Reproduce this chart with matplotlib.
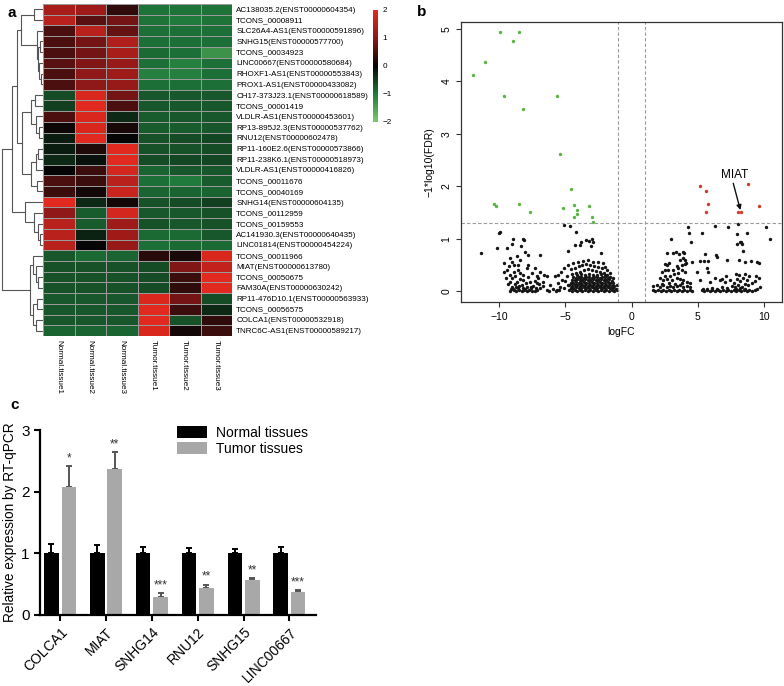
import numpy as np
import matplotlib
matplotlib.use("Agg")
import matplotlib.pyplot as plt
from matplotlib.colors import LinearSegmentedColormap
from matplotlib.patches import Patch

plt.rcParams['font.family'] = ['Liberation Sans', 'DejaVu Sans']

# ---------------- panel a: heatmap data ----------------
GENES = [
    "AC138035.2(ENST00000604354)", "TCONS_00008911", "SLC26A4-AS1(ENST00000591896)",
    "SNHG15(ENST00000577700)", "TCONS_00034923", "LINC00667(ENST00000580684)",
    "RHOXF1-AS1(ENST00000553843)", "PROX1-AS1(ENST00000433082)",
    "CH17-373J23.1(ENST00000618589)", "TCONS_00001419", "VLDLR-AS1(ENST00000453601)",
    "RP13-895J2.3(ENST00000537762)", "RNU12(ENST00000602478)",
    "RP11-160E2.6(ENST00000573866)", "RP11-238K6.1(ENST00000518973)",
    "VLDLR-AS1(ENST00000416826)", "TCONS_00011676", "TCONS_00040169",
    "SNHG14(ENST00000604135)", "TCONS_00112959", "TCONS_00159553",
    "AC141930.3(ENST00000640435)", "LINC01814(ENST00000454224)",
    "TCONS_00011966", "MIAT(ENST00000613780)", "TCONS_00050675",
    "FAM30A(ENST00000630242)", "RP11-476D10.1(ENST00000563933)", "TCONS_00056575",
    "COLCA1(ENST00000532918)", "TNRC6C-AS1(ENST00000589217)",
]
SAMPLES = ["Normal.tissue1", "Normal.tissue2", "Normal.tissue3",
           "Tumor.tissue1", "Tumor.tissue2", "Tumor.tissue3"]
ZSCORE = np.array([
    [1.3, 1.2, 0.3, -0.95, -0.95, -0.95],
    [1.5, 0.6, 0.8, -0.95, -1.0, -0.95],
    [0.5, 1.5, 0.7, -0.9, -0.9, -0.9],
    [0.5, 0.8, 1.4, -0.9, -0.9, -0.9],
    [0.5, 0.8, 1.3, -0.85, -0.9, -1.3],
    [0.6, 0.9, 1.1, -0.9, -1.05, -0.9],
    [0.5, 1.0, 1.2, -1.05, -1.05, -0.9],
    [0.5, 1.0, 1.1, -0.9, -0.9, -0.9],
    [-0.6, 1.9, 0.8, -0.7, -0.7, -0.7],
    [-0.5, 2.0, 0.5, -0.7, -0.7, -0.7],
    [0.5, 1.9, -0.3, -0.75, -0.7, -0.7],
    [0.05, 1.9, 0.15, -0.75, -0.75, -0.7],
    [-0.2, 2.0, 0.0, -0.65, -0.6, -0.55],
    [-0.2, 0.2, 2.0, -0.65, -0.65, -0.6],
    [-0.3, -0.1, 2.0, -0.6, -0.55, -0.55],
    [0.0, 0.4, 1.8, -0.8, -0.7, -0.7],
    [0.5, 0.4, 1.5, -0.9, -1.0, -0.75],
    [0.4, 0.1, 1.7, -0.8, -0.8, -0.8],
    [2.0, -0.3, 0.1, -0.65, -0.6, -0.5],
    [1.0, -0.75, 1.8, -0.7, -0.7, -0.65],
    [1.5, -0.75, 1.2, -0.65, -0.7, -0.65],
    [1.5, -0.25, 1.2, -0.85, -0.85, -0.7],
    [1.5, 0.0, 1.1, -0.9, -0.85, -0.85],
    [-0.7, -0.85, -0.8, 0.25, 0.15, 1.9],
    [-0.65, -0.65, -0.65, -0.6, 0.9, 1.6],
    [-0.65, -0.65, -0.65, -0.6, 0.4, 2.0],
    [-0.65, -0.65, -0.65, -0.6, 0.3, 2.0],
    [-0.7, -0.7, -0.7, 1.9, 0.8, -0.6],
    [-0.7, -0.7, -0.7, 2.0, 0.4, -0.3],
    [-0.7, -0.7, -0.7, 2.0, -0.65, 0.3],
    [-0.8, -0.8, -0.8, 1.9, 0.1, 0.4],
])

# row dendrogram merges (child_a, child_b, height); nodes numbered from 31
TREE = [
    (0, 1, 9), (3, 4, 3), (6, 7, 2), (5, 33, 4), (32, 34, 5), (2, 35, 6),
    (31, 36, 21),
    (8, 9, 8), (11, 12, 4), (10, 39, 7), (38, 40, 12),
    (13, 14, 5), (42, 15, 7), (16, 17, 6), (43, 44, 12), (41, 45, 20),
    (37, 46, 25),
    (21, 22, 3), (20, 48, 5), (19, 49, 9), (18, 50, 17),
    (47, 51, 30),
    (25, 26, 5), (24, 53, 7), (23, 54, 10), (27, 28, 6), (29, 30, 7),
    (56, 57, 10), (55, 58, 13),
    (52, 59, 40),
]

# ---------------- panel b: volcano data ----------------
GREEN_PTS = [
    (-9.92, 4.94), (-8.49, 4.94), (-8.92, 4.77), (-11.08, 4.36), (-11.96, 4.13),
    (-9.65, 3.72), (-5.65, 3.72), (-8.21, 3.48), (-5.37, 2.61), (-4.59, 1.95),
    (-10.35, 1.67), (-10.23, 1.62), (-8.47, 1.67), (-7.66, 1.52), (-5.15, 1.58),
    (-4.32, 1.65), (-4.14, 1.55), (-4.14, 1.48), (-4.34, 1.41), (-3.18, 1.62),
    (-2.98, 1.41), (-2.88, 1.33),
]
RED_PTS = [
    (5.17, 2.01), (5.65, 1.91), (5.80, 1.67), (5.65, 1.52), (8.79, 2.05),
    (8.04, 1.52), (8.24, 1.52), (9.62, 1.63),
]
LEFT_PTS = [
    (-11.38, 0.73), (-10.17, 0.82), (-9.92, 1.13), (-10.0, 1.12), (-8.97, 1.0),
    (-8.17, 1.0), (-8.1, 0.98), (-9.4, 0.82), (-8.99, 0.91), (-8.36, 0.86),
    (-8.04, 0.76), (-7.78, 0.69), (-6.9, 0.7), (-8.65, 0.67), (-9.15, 0.63),
    (-9.0, 0.57), (-8.85, 0.51), (-9.25, 0.48), (-8.55, 0.51), (-7.78, 0.51),
    (-9.4, 0.41), (-8.9, 0.38), (-8.55, 0.41), (-7.9, 0.44), (-9.65, 0.37),
    (-9.15, 0.32), (-8.77, 0.29), (-8.17, 0.32), (-7.53, 0.35), (-6.9, 0.38),
    (-7.03, 0.25), (-6.4, 0.29), (-5.77, 0.29), (-9.15, 0.19), (-8.65, 0.19),
    (-8.17, 0.22), (-7.65, 0.19), (-7.15, 0.16), (-6.65, 0.19), (-6.15, 0.13),
    (-5.52, 0.16), (-9.0, 0.09), (-8.52, 0.11), (-7.9, 0.09), (-7.4, 0.11),
    (-6.9, 0.06), (-6.4, 0.03), (-5.9, 0.05), (-9.2, 0.01), (-8.9, 0.02),
    (-8.7, 0.0), (-8.5, 0.02), (-8.3, 0.0), (-8.1, 0.02), (-7.9, 0.0),
    (-7.7, 0.02), (-7.5, 0.0), (-7.3, 0.01), (-7.1, 0.02), (-6.2, 0.01),
    (-5.7, 0.0), (-5.5, 0.02), (-9.5, 0.25), (-9.3, 0.15), (-8.8, 0.14),
    (-8.4, 0.24), (-8.3, 0.13), (-8.0, 0.16), (-7.8, 0.27), (-7.6, 0.06),
    (-7.3, 0.2), (-7.1, 0.3), (-6.7, 0.1), (-8.6, 0.06), (-9.1, 0.05),
    (-8.2, 0.06), (-7.2, 0.07), (-6.6, 0.32), (-9.6, 0.55), (-8.4, 0.6),
    (-7.3, 0.45), (-8.95, 0.04), (-8.75, 0.08), (-8.05, 0.04), (-7.55, 0.09),
    (-6.95, 0.14), (-8.45, 0.35), (-9.05, 0.25),
]
MID_PTS = [
    (-5.07, 1.27), (-4.64, 1.25), (-4.21, 1.13), (-3.8, 0.95), (-3.43, 0.98),
    (-3.23, 0.96), (-3.0, 1.0), (-2.91, 0.94), (-3.06, 0.87), (-3.89, 0.89),
    (-4.27, 0.89), (-4.83, 0.77), (-2.28, 0.73),
    (-5.57, 0.32), (-5.32, 0.38), (-5.07, 0.44), (-4.77, 0.51), (-4.39, 0.54),
    (-4.01, 0.57), (-3.64, 0.58), (-3.26, 0.6), (-2.88, 0.57), (-2.5, 0.57),
    (-2.12, 0.54), (-2.0, 0.47), (-1.87, 0.41), (-1.62, 0.35), (-1.37, 0.25),
    (-1.11, 0.12), (-5.27, 0.22), (-5.4, 0.09), (-5.65, 0.03),
    (-4.6, 0.42), (-4.3, 0.45), (-4.0, 0.48), (-3.7, 0.5), (-3.4, 0.52),
    (-3.1, 0.5), (-2.8, 0.48), (-2.5, 0.47), (-2.25, 0.45), (-4.5, 0.33),
    (-4.2, 0.36), (-3.9, 0.38), (-3.6, 0.41), (-3.3, 0.42), (-3.0, 0.4),
    (-2.7, 0.39), (-2.4, 0.38), (-2.1, 0.36), (-1.85, 0.32), (-4.9, 0.3),
    (-5.0, 0.2), (-4.8, 0.13), (-5.1, 0.06),
    (-4.7, .02), (-4.5, .01), (-4.3, .03), (-4.1, .01), (-3.9, .02), (-3.7, .01),
    (-3.5, .03), (-3.3, .01), (-3.1, .02), (-2.9, .01), (-2.7, .03), (-2.5, .01),
    (-2.3, .02), (-2.1, .01), (-1.9, .03), (-1.7, .01), (-1.5, .02), (-1.3, .01),
    (-1.1, .02),
    (-4.6, .07), (-4.4, .06), (-4.2, .08), (-4.0, .06), (-3.8, .07), (-3.6, .08),
    (-3.4, .06), (-3.2, .07), (-3.0, .08), (-2.8, .06), (-2.6, .07), (-2.4, .08),
    (-2.2, .06), (-2.0, .07), (-1.8, .08), (-1.6, .06), (-1.4, .07), (-1.2, .05),
    (-4.7, .12), (-4.5, .11), (-4.3, .13), (-4.1, .12), (-3.9, .11), (-3.7, .13),
    (-3.5, .12), (-3.3, .11), (-3.1, .13), (-2.9, .12), (-2.7, .11), (-2.5, .13),
    (-2.3, .12), (-2.1, .11), (-1.9, .13), (-1.7, .12), (-1.5, .11), (-1.3, .10),
    (-4.6, .17), (-4.4, .16), (-4.2, .18), (-4.0, .17), (-3.8, .16), (-3.6, .18),
    (-3.4, .17), (-3.2, .16), (-3.0, .18), (-2.8, .17), (-2.6, .16), (-2.4, .18),
    (-2.2, .17), (-2.0, .16), (-1.8, .18), (-1.6, .17), (-1.4, .16),
    (-4.5, .22), (-4.3, .21), (-4.1, .23), (-3.9, .22), (-3.7, .21), (-3.5, .23),
    (-3.3, .22), (-3.1, .21), (-2.9, .23), (-2.7, .22), (-2.5, .21), (-2.3, .23),
    (-2.1, .22), (-1.9, .21), (-1.7, .23), (-1.5, .20),
    (-4.4, .27), (-4.2, .26), (-4.0, .28), (-3.8, .27), (-3.6, .26), (-3.4, .28),
    (-3.2, .27), (-3.0, .26), (-2.8, .28), (-2.6, .27), (-2.4, .26), (-2.2, .28),
    (-2.0, .27), (-1.8, .25), (-1.6, .27),
    (-4.1, .32), (-3.8, .33), (-3.5, .31), (-3.2, .33), (-2.9, .32), (-2.6, .31),
    (-2.3, .33), (-2.0, .31),
]
RIGHT_PTS = [
    (4.29, 1.22), (4.36, 1.12), (5.3, 1.12), (6.3, 1.24), (7.31, 1.22),
    (8.06, 1.29), (7.94, 1.1), (8.69, 1.12), (10.13, 1.22), (10.45, 0.99),
    (2.96, 0.99), (4.47, 0.95), (8.19, 0.95), (7.94, 0.91), (8.27, 0.95),
    (8.35, 0.9), (8.45, 0.78), (2.71, 0.74), (3.11, 0.74), (3.36, 0.76),
    (3.61, 0.72), (3.87, 0.75), (3.97, 0.73), (5.55, 0.72), (6.38, 0.7),
    (6.48, 0.65), (4.55, 0.57), (5.15, 0.58), (5.5, 0.58), (5.75, 0.58),
    (7.2, 0.6), (8.08, 0.59), (8.53, 0.57), (9.04, 0.58), (9.47, 0.57),
    (9.6, 0.54), (2.53, 0.53), (2.66, 0.51), (2.86, 0.54), (3.66, 0.6),
    (3.92, 0.63), (4.05, 0.6), (4.12, 0.55), (3.41, 0.48), (3.78, 0.51),
    (4.04, 0.53), (2.28, 0.38), (2.53, 0.4), (2.78, 0.41), (3.16, 0.41),
    (3.53, 0.44), (3.78, 0.41), (4.04, 0.38), (4.91, 0.38), (5.67, 0.44),
    (5.8, 0.38), (7.16, 0.29), (6.86, 0.24), (7.87, 0.34), (8.12, 0.32),
    (8.57, 0.34), (8.88, 0.29), (9.38, 0.29), (9.59, 0.26),
    (2.15, 0.25), (2.41, 0.22), (2.66, 0.23), (3.04, 0.22), (3.41, 0.25),
    (3.66, 0.23), (3.92, 0.22), (4.17, 0.19), (4.42, 0.16), (5.17, 0.22),
    (5.92, 0.19), (6.3, 0.25), (6.68, 0.22), (7.06, 0.19), (7.44, 0.22),
    (1.65, 0.1), (1.9, 0.12), (2.15, 0.09), (2.41, 0.12), (2.66, 0.08),
    (2.91, 0.1), (3.16, 0.08), (3.41, 0.1), (3.66, 0.12), (3.92, 0.08),
    (4.17, 0.1), (4.42, 0.08), (5.42, 0.04), (5.67, 0.05), (6.05, 0.07),
    (6.43, 0.05), (6.8, 0.09), (7.18, 0.07), (7.56, 0.11), (7.81, 0.09),
    (8.06, 0.12), (8.31, 0.09), (8.56, 0.14), (8.81, 0.12), (9.06, 0.17),
    (9.31, 0.2), (1.6, 0.02), (1.8, 0.01), (2.0, 0.03), (2.2, 0.01),
    (2.4, 0.02), (2.6, 0.01), (2.8, 0.03), (3.0, 0.01), (3.2, 0.02),
    (3.4, 0.01), (3.6, 0.03), (3.8, 0.01), (4.0, 0.02), (4.2, 0.01),
    (4.4, 0.03), (4.6, 0.01), (5.3, 0.02), (5.5, 0.01), (5.7, 0.03),
    (5.9, 0.01), (6.1, 0.02), (6.3, 0.01), (6.5, 0.03), (6.7, 0.01),
    (6.9, 0.02), (7.1, 0.01), (7.3, 0.03), (7.5, 0.01), (7.7, 0.02),
    (7.9, 0.01), (8.1, 0.03), (8.3, 0.01), (8.5, 0.02), (8.7, 0.01),
    (8.9, 0.03), (9.1, 0.01), (9.3, 0.02), (9.5, 0.04), (9.7, 0.08),
    (2.9, 0.3), (3.2, 0.33), (2.5, 0.3), (8.2, 0.2), (8.4, 0.25), (7.7, 0.16),
    (2.3, 0.15), (2.8, 0.16), (3.3, 0.15), (3.8, 0.16), (3.5, 0.35),
    (7.9, 0.05), (8.2, 0.07), (8.6, 0.05), (8.0, 0.24), (8.7, 0.21),
]
FDR_CUT = 1.3
LOGFC_CUT = 1.0

# ---------------- panel c: RT-qPCR data ----------------
LNCRNAS = ["COLCA1", "MIAT", "SNHG14", "RNU12", "SNHG15", "LINC00667"]
NORMAL_MEAN = [1.0, 1.0, 1.0, 1.0, 1.0, 1.0]
NORMAL_ERR = [0.15, 0.14, 0.10, 0.09, 0.07, 0.11]
TUMOR_MEAN = [2.08, 2.37, 0.30, 0.44, 0.56, 0.37]
TUMOR_ERR = [0.33, 0.27, 0.05, 0.05, 0.04, 0.03]
STARS = ["*", "**", "***", "**", "**", "***"]

W, H = 784, 686
fig = plt.figure(figsize=(W / 100, H / 100), dpi=100)


def box(x0, y0, x1, y1):
    # pixel box (top-left origin) -> figure fraction rect
    return [x0 / W, 1 - y1 / H, (x1 - x0) / W, (y1 - y0) / H]


# ===== a: heatmap =====
cmap = LinearSegmentedColormap.from_list(
    "gkr", [(0.0, "#80c86c"), (0.25, "#1f7a3b"), (0.5, "#050505"),
            (0.75, "#8e1818"), (1.0, "#e2291f")])
n_rows, n_cols = ZSCORE.shape
ax_h = fig.add_axes(box(43, 4, 232, 336))
mesh = ax_h.pcolormesh(ZSCORE, cmap=cmap, vmin=-2, vmax=2,
                       edgecolors="#9a9a9a", linewidth=0.5)
ax_h.set_xlim(0, n_cols)
ax_h.set_ylim(n_rows, 0)
for s in ax_h.spines.values():
    s.set_visible(False)
ax_h.yaxis.tick_right()
ax_h.set_yticks(np.arange(n_rows) + 0.5)
ax_h.set_yticklabels(GENES, fontsize=5.8)
ax_h.set_xticks(np.arange(n_cols) + 0.5)
ax_h.set_xticklabels(SAMPLES, fontsize=5.9, rotation=270)
ax_h.tick_params(length=0, pad=3)

# dendrogram
ax_d = fig.add_axes(box(0, 4, 43, 336))
pos = {i: (0.0, i + 0.5) for i in range(n_rows)}
for k, (a, b, h) in enumerate(TREE):
    (ha, ya), (hb, yb) = pos[a], pos[b]
    ax_d.plot([ha, h, h, hb], [ya, ya, yb, yb], color="#555555", lw=0.8,
              solid_joinstyle="miter")
    pos[n_rows + k] = (h, (ya + yb) / 2)
ax_d.set_xlim(41.5, 0)
ax_d.set_ylim(n_rows, 0)
ax_d.axis("off")

# colour key
ax_c = fig.add_axes(box(373, 10, 378, 122))
cb = fig.colorbar(mesh, cax=ax_c, ticks=[-2, -1, 0, 1, 2])
cb.outline.set_visible(False)
ax_c.tick_params(length=0, labelsize=5.9, pad=3)

fig.text(8 / W, 1 - 13 / H, "a", fontsize=11, fontweight="bold", va="center")

# ===== b: volcano =====
ax_v = fig.add_axes(box(461, 22, 782, 302))
blk = np.array(LEFT_PTS + MID_PTS + RIGHT_PTS)
grn = np.array(GREEN_PTS)
red = np.array(RED_PTS)
ax_v.scatter(blk[:, 0], blk[:, 1], s=6, color="#151515", lw=0)
ax_v.scatter(grn[:, 0], grn[:, 1], s=6, color="#5bb543", lw=0)
ax_v.scatter(red[:, 0], red[:, 1], s=6, color="#d03a2a", lw=0)
for xv in (-LOGFC_CUT, LOGFC_CUT):
    ax_v.axvline(xv, color="#9a9a9a", lw=0.8, dashes=(3, 2))
ax_v.axhline(FDR_CUT, color="#9a9a9a", lw=0.8, dashes=(3, 2))
ax_v.set_xlim(-12.87, 11.36)
ax_v.set_ylim(-0.2, 5.13)
ax_v.set_xticks([-10, -5, 0, 5, 10])
ax_v.set_xticklabels(["\u221210", "\u22125", "0", "5", "10"])
ax_v.set_yticks([0, 1, 2, 3, 4, 5])
ax_v.tick_params(labelsize=7.5, length=3.5, width=0.8, color="#333333")
for lab in ax_v.get_yticklabels():
    lab.set_rotation(90)
    lab.set_va("center")
for s in ax_v.spines.values():
    s.set_linewidth(0.9)
    s.set_color("#333333")
ax_v.set_xlabel("logFC", fontsize=7.5, labelpad=4)
ax_v.set_ylabel("\u22121*log10(FDR)", fontsize=7.5, labelpad=5)
ax_v.text(7.75, 2.22, "MIAT", fontsize=8.5, ha="center", va="center")
ax_v.annotate("", xy=(8.22, 1.55), xytext=(7.68, 2.06),
              arrowprops=dict(arrowstyle="-|>", lw=1.0, color="#111111",
                              mutation_scale=7, shrinkA=0, shrinkB=0))
fig.text(417 / W, 1 - 12 / H, "b", fontsize=11, fontweight="bold", va="center")

# ===== c: bars =====
ax_b = fig.add_axes(box(40, 430, 316, 615))
idx = np.arange(len(LNCRNAS))
bw = 0.32
off = 0.19
ax_b.bar(idx - off, NORMAL_MEAN, width=bw, color="black", zorder=2)
ax_b.bar(idx + off, TUMOR_MEAN, width=bw, color="#a8a8a8", zorder=2)
ax_b.errorbar(idx - off, NORMAL_MEAN, yerr=[np.zeros(len(idx)), NORMAL_ERR],
              fmt="none", ecolor="black", elinewidth=1.4, capsize=2.5,
              capthick=1.4, zorder=1)
ax_b.errorbar(idx + off, TUMOR_MEAN, yerr=[np.zeros(len(idx)), TUMOR_ERR],
              fmt="none", ecolor="#555555", elinewidth=1.4, capsize=2.5,
              capthick=1.4, zorder=1)
for i, st in enumerate(STARS):
    ax_b.text(i + off, TUMOR_MEAN[i] + TUMOR_ERR[i] + 0.03, st, fontsize=8.5,
              ha="center", va="bottom", color="#333333")
ax_b.set_xlim(-0.44, 5.58)
ax_b.set_ylim(0, 3)
ax_b.set_yticks([0, 1, 2, 3])
ax_b.set_xticks(idx)
ax_b.set_xticklabels(LNCRNAS, rotation=45, ha="right", rotation_mode="anchor",
                     fontsize=10)
ax_b.tick_params(axis="y", labelsize=11, length=4, width=1.5)
ax_b.tick_params(axis="x", length=4, width=1.5)
for s in ("top", "right"):
    ax_b.spines[s].set_visible(False)
for s in ("left", "bottom"):
    ax_b.spines[s].set_linewidth(1.6)
ax_b.set_ylabel("Relative expression by RT-qPCR", fontsize=9.8, labelpad=3)
ax_b.legend(handles=[Patch(facecolor="black", label="Normal tissues"),
                     Patch(facecolor="#a8a8a8", label="Tumor tissues")],
            loc="upper left", bbox_to_anchor=(0.47, 1.06), frameon=False,
            fontsize=10, handlelength=2.2, handleheight=1.0,
            labelspacing=0.15, handletextpad=0.6, borderpad=0)
fig.text(10 / W, 1 - 405 / H, "c", fontsize=11, fontweight="bold", va="center")

fig.savefig("out.png", dpi=100)
